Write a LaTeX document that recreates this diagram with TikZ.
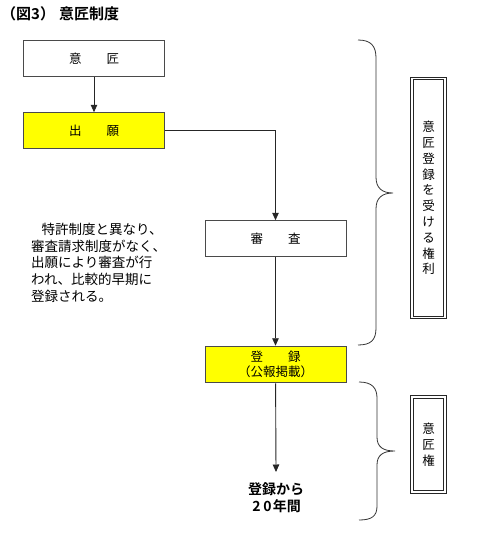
\documentclass[tikz,border=0pt]{standalone}
\usepackage{fontspec}
\setmainfont{Noto Sans CJK JP}[BoldFont={Noto Sans CJK JP Bold}]
\usetikzlibrary{arrows.meta}
\definecolor{boxyellow}{HTML}{FFFF00}
\definecolor{edge}{HTML}{4A4A4A}
\tikzset{
  flowbox/.style={draw=edge, line width=1pt, minimum width=141pt, minimum height=35.5pt, inner sep=0pt, font=\fontsize{12.5}{15}\selectfont, align=center},
  yellowbox/.style={flowbox, fill=boxyellow},
  flowarrow/.style={draw=black!85, line width=0.9pt, -{Triangle[width=6.5pt,length=7.5pt]}},
  rightbox/.style={draw=black!85, line width=0.9pt, double=white, double distance=1.8pt, minimum width=33pt, inner sep=0pt, font=\fontsize{12.5}{15.8}\selectfont, align=center},
  bracepath/.style={draw=black!80, line width=0.8pt}
}
\begin{document}
\begin{tikzpicture}[x=1pt,y=-1pt]
\useasboundingbox (0,0) rectangle (498,546);
% title
\node[anchor=west, inner sep=0pt, font=\bfseries\fontsize{15}{18}\selectfont] (title) at (1,14) {（図3）\hspace{4pt}意匠制度};
% boxes
\node[flowbox] (ishou) at (94,58.5) {意　　匠};
\node[yellowbox] (shutsugan) at (94,130.5) {出　　願};
\node[flowbox] (shinsa) at (275.5,238.5) {審　　査};
\node[yellowbox, minimum height=36.5pt] (touroku) at (275.5,364.5) {登　　録\\（公報掲載）};
\coordinate (endpt) at (276,472);
\node[inner sep=0pt, font=\bfseries\fontsize{14}{17}\selectfont, align=center] (kikan) at (276,497.5) {登録から\\\makebox[11pt]{2}\makebox[11pt]{0}年間};
% connectors
\draw[flowarrow] (ishou) -- (shutsugan);
\draw[flowarrow] (shutsugan.east) -| (shinsa.north);
\draw[flowarrow] (shinsa) -- (touroku);
\draw[flowarrow] (touroku) -- (endpt);
% note text
\node[anchor=north west, inner sep=0pt, align=left, font=\fontsize{13.5}{16.7}\selectfont] (note) at (31,223)
  {\hspace*{10.5pt}特許制度と異なり、\\審査請求制度がなく、\\出願により審査が行\\われ、比較的早期に\\登録される。};
% braces
\draw[bracepath] (358,40) .. controls (371,40) and (376,46) .. (376,58) -- (376,177)
  .. controls (376,188) and (382,193) .. (393,193)
  .. controls (382,193) and (376,198) .. (376,209) -- (376,328)
  .. controls (376,340) and (371,345) .. (358,345);
\draw[bracepath] (359,382) .. controls (372,382) and (377,388) .. (377,398) -- (377,437)
  .. controls (377,447) and (383,451) .. (395,451)
  .. controls (383,451) and (377,455) .. (377,465) -- (377,506)
  .. controls (377,516) and (372,520) .. (359,520);
% right boxes
\node[rightbox, minimum height=239pt] (kenri) at (428.5,198) {意\\匠\\登\\録\\を\\受\\け\\る\\権\\利};
\node[rightbox, minimum height=95pt] (ishouken) at (428.5,444.5) {意\\匠\\権};
\end{tikzpicture}
\end{document}
